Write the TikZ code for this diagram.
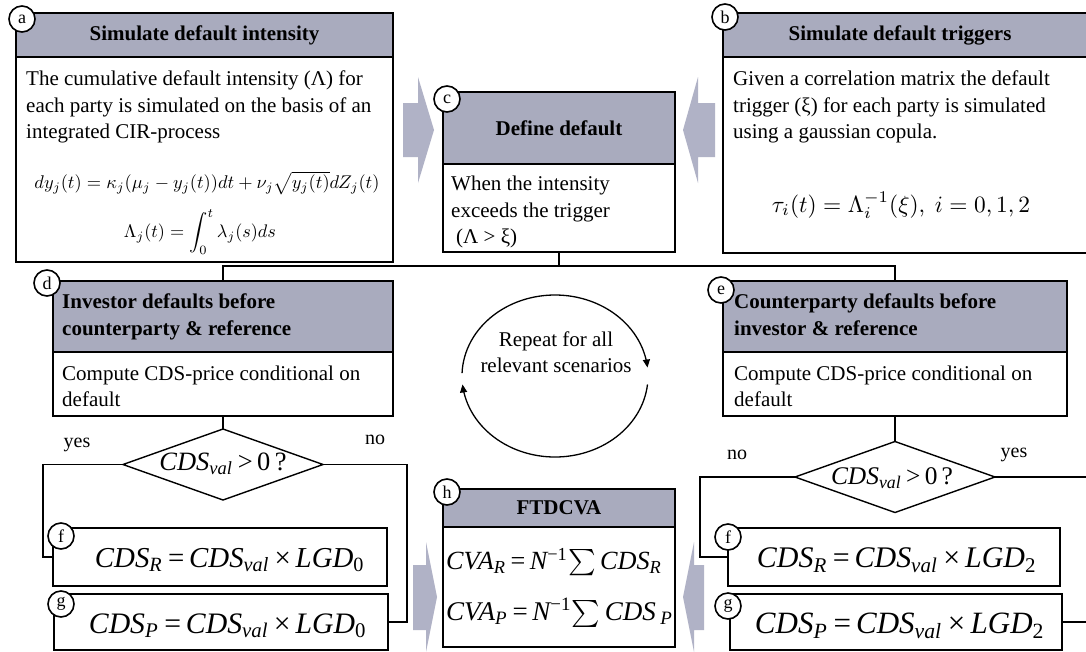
\documentclass[tikz,border=0pt]{standalone}
\usepackage{graphicx}
\usepackage{fontspec}
\setmainfont{Liberation Serif}
\usetikzlibrary{shapes.geometric,arrows.meta}
\definecolor{hdrgray}{RGB}{169,171,190}
\definecolor{arrgray}{RGB}{176,178,198}
\newcommand{\bodyfont}{\fontsize{21}{26.5}\selectfont}
\newcommand{\hdrfont}{\fontsize{21}{27}\selectfont\bfseries}
\newcommand{\tagfont}{\fontsize{18}{20}\selectfont}
\newcommand{\lblfont}{\fontsize{20}{22}\selectfont}
\newcommand{\isub}[1]{\textsubscript{\itshape #1}}
\newcommand{\usub}[1]{\textsubscript{\upshape #1}}
\newcommand{\cdsform}[2]{{\itshape CDS}\isub{#1}\,=\,{\itshape CDS}\isub{val}\,×\,{\itshape LGD}\usub{#2}}
\newcommand{\cdsq}{{\itshape CDS}\isub{val}\,>\,0\,?}
\tikzset{
  hdr/.style={draw, line width=1.6pt, fill=hdrgray, anchor=north west, inner sep=0, outer sep=0},
  bodyb/.style={draw, line width=1.6pt, fill=white, anchor=north west, inner sep=0, outer sep=0},
  dia/.style={draw, diamond, line width=1.4pt, fill=white, inner sep=0, outer sep=0, minimum width=200pt, minimum height=71pt},
  tag/.style={circle, draw, line width=1.6pt, fill=white, inner sep=0, minimum size=26pt, font=\tagfont},
  conn/.style={line width=1.3pt},
  txt/.style={inner sep=0, align=left, font=\bodyfont},
  htxt/.style={inner sep=0, align=left, font=\hdrfont},
  lbl/.style={inner sep=0, font=\lblfont},
  frm/.style={inner sep=0},
  loopline/.style={line width=1.3pt, -{Triangle[length=8pt,width=7pt]}},
  bigarrow/.style={fill=arrgray, draw=none}
}
\begin{document}
\begin{tikzpicture}[x=1pt,y=-1pt]
\useasboundingbox (0,0) rectangle (1086,651);
\fill[white] (0,0) rectangle (1086,651);
% grey block arrows
\fill[bigarrow] (403,103) -- (418,103) -- (418,77) -- (434,130) -- (418,183) -- (418,157) -- (403,157) -- cycle;
\fill[bigarrow] (715,103) -- (698,103) -- (698,77) -- (683,130) -- (698,183) -- (698,157) -- (715,157) -- cycle;
\fill[bigarrow] (413,565) -- (426,565) -- (426,542) -- (437,597) -- (426,652) -- (426,630) -- (413,630) -- cycle;
\fill[bigarrow] (704,565) -- (694,565) -- (694,542) -- (683,597) -- (694,652) -- (694,630) -- (704,630) -- cycle;
% boxes
\node[hdr, minimum width=377pt, minimum height=44pt] (aH) at (16,13) {};
\node[bodyb, minimum width=377pt, minimum height=205pt] (aB) at (16,57) {};
\node[hdr, minimum width=375pt, minimum height=44pt] (bH) at (723,13) {};
\node[bodyb, minimum width=375pt, minimum height=196pt] (bB) at (723,57) {};
\node[hdr, minimum width=232pt, minimum height=72pt] (cH) at (443,92) {};
\node[bodyb, minimum width=232pt, minimum height=88pt] (cB) at (443,164) {};
\node[hdr, minimum width=340pt, minimum height=71pt] (dH) at (53,281) {};
\node[bodyb, minimum width=340pt, minimum height=64pt] (dB) at (53,352) {};
\node[hdr, minimum width=344pt, minimum height=71pt] (eH) at (723,281) {};
\node[bodyb, minimum width=344pt, minimum height=64pt] (eB) at (723,352) {};
\node[hdr, minimum width=232pt, minimum height=38pt] (hH) at (443,489) {};
\node[bodyb, minimum width=232pt, minimum height=120pt] (hB) at (443,527) {};
\node[bodyb, minimum width=334pt, minimum height=58pt] (fL) at (53,528) {};
\node[bodyb, minimum width=334pt, minimum height=56pt] (gL) at (54,594) {};
\node[bodyb, minimum width=332pt, minimum height=58pt] (fR) at (728,528) {};
\node[bodyb, minimum width=332pt, minimum height=56pt] (gR) at (730,594) {};
\node[dia] (dL) at (223,464.5) {};
\node[dia] (dR) at (895,477) {};
% connectors
\coordinate (jn) at (559,266);
\draw[conn] (cB.south) -- (jn);
\draw[conn] (dH.north) |- (jn) -| (eH.north);
\draw[conn] (dB.south) -- (dL.north);
\draw[conn] (eB.south) -- (dR.north);
\draw[conn] (dL.west) -- ++(-80,0) |- (fL.west);
\draw[conn] (dL.east) -- ++(84,0) |- (gL.east);
\draw[conn] (dR.west) -- ++(-95,0) |- (fR.west);
\draw[conn] (dR.east) -- ++(100,0) |- (gR.east);
% repeat loop
\draw[loopline] plot[domain=178:6, samples=60, smooth] ({555+93*cos(\x)},{376-81*sin(\x)});
\draw[loopline] plot[domain=-6:-174, samples=60, smooth] ({555+93*cos(\x)},{376-81*sin(\x)});
\node[txt, align=center] (loopT) at (556,354) {\strut Repeat for all\\relevant scenarios\strut};
% header texts
\node[htxt] (aHt) at (aH.center) {Simulate default intensity};
\node[htxt] (bHt) at (900,35) {Simulate default triggers};
\node[htxt] (cHt) at (cH.center) {Define default};
\node[htxt, anchor=west] (dHt) at (62,317) {\strut Investor defaults before\\counterparty \& reference\strut};
\node[htxt, anchor=west] (eHt) at (734,317) {\strut Counterparty defaults before\\investor \& reference\strut};
\node[htxt] (hHt) at (hH.center) {FTDCVA};
% body texts
\node[txt, anchor=west] (aT) at (26,107) {\strut The cumulative default intensity (Λ) for\\each party is simulated on the basis of an\\integrated CIR-process\strut};
\node[txt, anchor=west] (bT) at (733,107) {\strut Given a correlation matrix the default\\trigger (ξ) for each party is simulated\\using a gaussian copula.\strut};
\node[txt, anchor=west] (cT) at (451,212) {\strut When the intensity\\exceeds the trigger\\\hspace*{5pt}(Λ > ξ)\strut};
\node[txt, anchor=west] (dT) at (62,388) {\strut Compute CDS-price conditional on\\default\strut};
\node[txt, anchor=west] (eT) at (734,388) {\strut Compute CDS-price conditional on\\default\strut};
% formulas
\node[frm] (aF1) at (207,183) {\resizebox{345pt}{!}{$dy_j(t)=\kappa_j(\mu_j-y_j(t))dt+\nu_j\sqrt{y_j(t)}dZ_j(t)$}};
\node[frm] (aF2) at (200,232) {\resizebox{152pt}{!}{$\Lambda_j(t)=\displaystyle\int_0^t\lambda_j(s)ds$}};
\node[frm] (bF) at (901,205) {\resizebox{258pt}{!}{$\tau_i(t)=\Lambda_i^{-1}(\xi),\ i=0,1,2$}};
\node[frm] (dLt) at (223,464) {\resizebox{127pt}{!}{\cdsq}};
\node[frm] (dRt) at (892,478) {\resizebox{122pt}{!}{\cdsq}};
\node[frm] (fLt) at (230,560) {\resizebox{270pt}{!}{\cdsform{R}{0}}};
\node[frm] (gLt) at (228,626) {\resizebox{278pt}{!}{\cdsform{P}{0}}};
\node[frm] (fRt) at (897,560) {\resizebox{280pt}{!}{\cdsform{R}{2}}};
\node[frm] (gRt) at (900,626) {\resizebox{290pt}{!}{\cdsform{P}{2}}};
\node[frm, anchor=west] (hF1) at (446,562) {\resizebox{216pt}{!}{{\itshape CVA}\isub{R}\,=\,{\itshape N}\textsuperscript{−1}$\sum$\,{\itshape CDS}\isub{R}}};
\node[frm, anchor=west] (hF2) at (446,613) {\resizebox{227pt}{!}{{\itshape CVA}\isub{P}\,=\,{\itshape N}\textsuperscript{−1}$\sum$\,{\itshape CDS}\,\isub{P}}};
% yes/no labels
\node[lbl] (yesL) at (77,445) {yes};
\node[lbl] (noL) at (375,440) {no};
\node[lbl] (noR) at (737,455) {no};
\node[lbl] (yesR) at (1014,455) {yes};
% tags
\node[tag] (ta) at (22,19) {a};
\node[tag] (tb) at (725,17) {b};
\node[tag] (tc) at (447,99) {c};
\node[tag] (td) at (47,283) {d};
\node[tag] (te) at (721,290) {e};
\node[tag] (tfL) at (61,536) {f};
\node[tag] (tgL) at (61,604) {g};
\node[tag] (th) at (447,492) {h};
\node[tag] (tfR) at (728,537) {f};
\node[tag] (tgR) at (728,606) {g};
\end{tikzpicture}
\end{document}
